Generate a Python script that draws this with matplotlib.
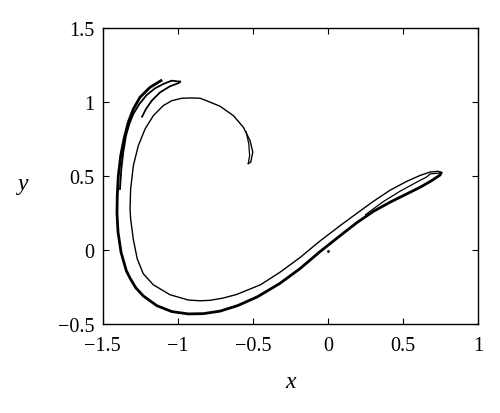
import matplotlib.pyplot as plt

# outer (thick) edge: top-left tip -> left side -> bottom -> lower rising edge -> right tip
outer_x = [-1.112, -1.185, -1.252, -1.296, -1.330, -1.358, -1.380, -1.396, -1.403, -1.405,
           -1.398, -1.378, -1.343, -1.318, -1.280, -1.230, -1.140, -1.040, -0.930, -0.830,
           -0.719, -0.600, -0.470, -0.320, -0.186, -0.053, 0.080, 0.191, 0.302, 0.413,
           0.524, 0.613, 0.690, 0.746, 0.752]
outer_y = [1.146, 1.101, 1.033, 0.954, 0.864, 0.752, 0.639, 0.503, 0.368, 0.250,
           0.121, -0.015, -0.139, -0.190, -0.255, -0.310, -0.376, -0.416, -0.432, -0.430,
           -0.413, -0.375, -0.316, -0.225, -0.125, -0.010, 0.097, 0.185, 0.262, 0.324,
           0.380, 0.425, 0.470, 0.508, 0.522]

# inner (thin) edge: hook -> arc -> inner left side -> inner bottom -> upper rising edge -> right tip
inner_x = [-0.531, -0.515, -0.501, -0.519, -0.564, -0.630, -0.719, -0.808, -0.852, -0.907,
           -0.974, -1.041, -1.097, -1.163, -1.218, -1.263, -1.296, -1.314, -1.318, -1.314,
           -1.296, -1.270, -1.230, -1.163, -1.052, -0.930, -0.852, -0.786, -0.700, -0.608,
           -0.450, -0.320, -0.186, -0.053, 0.035, 0.080, 0.191, 0.302, 0.413, 0.524,
           0.613, 0.680, 0.734, 0.752]
inner_y = [0.585, 0.594, 0.662, 0.740, 0.831, 0.909, 0.973, 1.010, 1.027, 1.029,
           1.027, 1.010, 0.977, 0.909, 0.819, 0.706, 0.571, 0.413, 0.278, 0.211,
           0.071, -0.060, -0.160, -0.235, -0.302, -0.338, -0.343, -0.340, -0.325, -0.300,
           -0.235, -0.150, -0.050, 0.062, 0.130, 0.165, 0.248, 0.330, 0.405, 0.465,
           0.505, 0.528, 0.533, 0.522]

# fold inside the right tip
fold_x = [0.752, 0.679, 0.657, 0.591, 0.479, 0.368, 0.250]
fold_y = [0.522, 0.515, 0.495, 0.460, 0.398, 0.328, 0.240]

# fold inside the hook
hook_x = [-0.545, -0.528, -0.522, -0.531]
hook_y = [0.800, 0.720, 0.640, 0.585]

# second strand near the top-left
strand_x = [-0.985, -1.041, -1.097, -1.152, -1.207, -1.256, -1.296, -1.323, -1.345, -1.363,
            -1.376, -1.385]
strand_y = [1.139, 1.146, 1.123, 1.094, 1.049, 0.988, 0.921, 0.853, 0.774, 0.662,
            0.549, 0.413]
short_x = [-0.985, -0.994, -1.052, -1.118, -1.174, -1.212, -1.238]
short_y = [1.139, 1.130, 1.108, 1.067, 1.010, 0.954, 0.902]

dot_x = [0.002]
dot_y = [-0.004]

plt.rcParams['font.family'] = ['Liberation Serif', 'DejaVu Serif']

fig = plt.figure(figsize=(5, 4.14), dpi=100)
ax = fig.add_axes([0.2054, 0.215, 0.7512, 0.7142])

ax.plot(outer_x, outer_y, color='black', lw=2.0, solid_joinstyle='round')
ax.plot(inner_x, inner_y, color='black', lw=1.0, solid_joinstyle='round')
ax.plot(fold_x, fold_y, color='black', lw=0.9)
ax.plot(hook_x, hook_y, color='black', lw=0.9)
ax.plot(strand_x, strand_y, color='black', lw=1.3)
ax.plot(short_x, short_y, color='black', lw=1.3)
ax.plot(dot_x, dot_y, 'o', color='black', ms=1)

ax.set_xlim(-1.5, 1)
ax.set_ylim(-0.5, 1.5)
ax.set_xticks([-1.5, -1, -0.5, 0, 0.5, 1])
ax.set_xticklabels(['\u22121.5', '\u22121', '\u22120.5', '0', '0.5', '1'])
ax.set_yticks([-0.5, 0, 0.5, 1, 1.5])
ax.set_yticklabels(['\u22120.5', '0', '0.5', '1', '1.5'])
ax.tick_params(direction='in', top=True, right=True, length=4, width=0.8,
               labelsize=14.5)
ax.tick_params(axis='x', pad=9)
ax.tick_params(axis='y', pad=6)
for s in ax.spines.values():
    s.set_linewidth(1.0)

ax.set_xlabel('x', fontsize=17, style='italic', va='center')
ax.xaxis.set_label_coords(0.5, -0.196)
ax.set_ylabel('y', fontsize=17, style='italic', rotation=0, va='center', ha='center')
ax.yaxis.set_label_coords(-0.212, 0.476)

fig.savefig('out.png', dpi=100)
